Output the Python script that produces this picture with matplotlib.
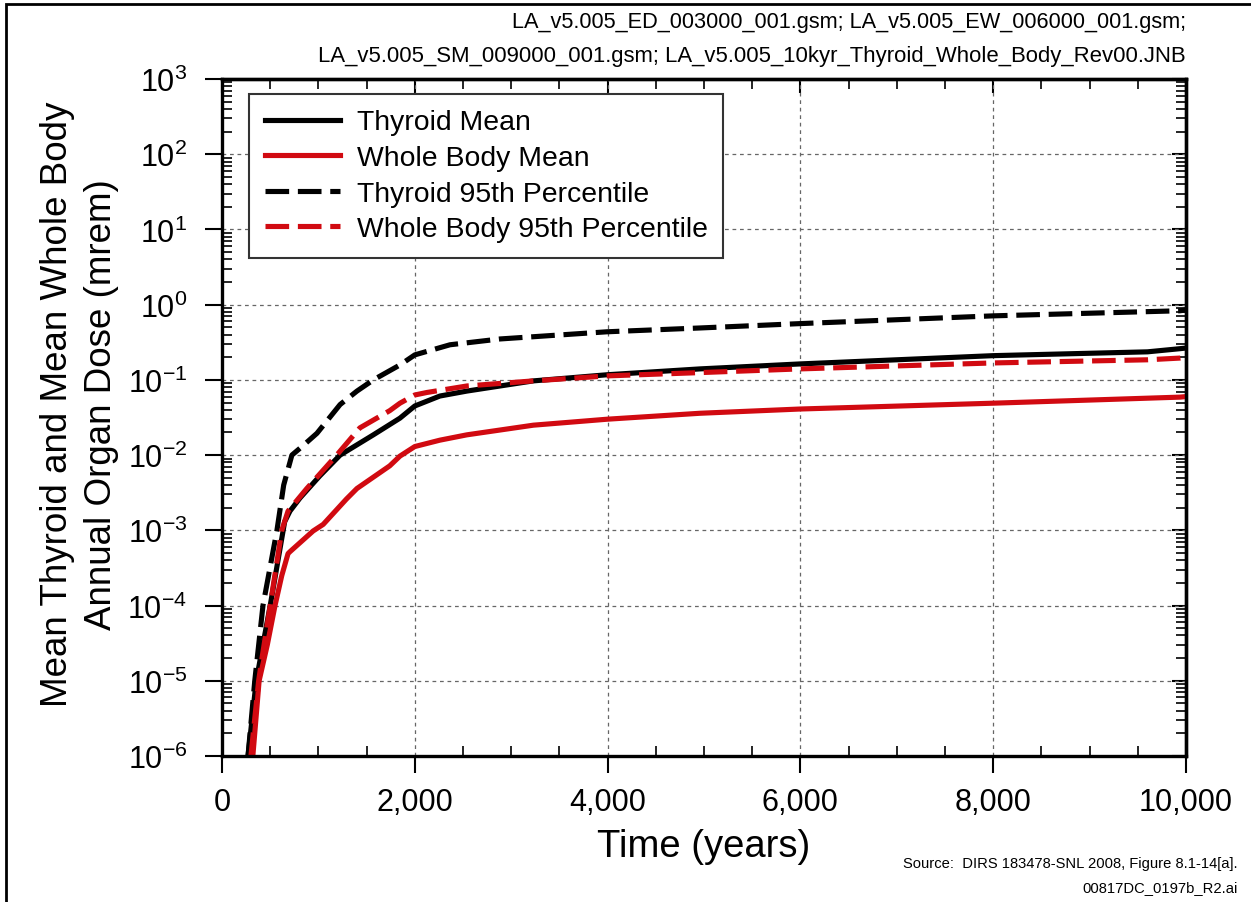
import numpy as np
import matplotlib.pyplot as plt
from matplotlib.ticker import FixedLocator, LogLocator, LogFormatterMathtext, FuncFormatter, NullFormatter
from matplotlib.patches import Rectangle

plt.rcParams['font.family'] = ['Liberation Sans', 'DejaVu Sans']
plt.rcParams['mathtext.default'] = 'regular'

# Values (years, mrem)
thy_mean_t = [270, 355, 500, 650, 705, 810, 1015, 1225, 1570, 1846, 2000, 2260, 2540,
              3230, 3994, 4958, 5996, 8000, 9600, 9938, 10000]
thy_mean_v = [1e-6, 1e-5, 1e-4, 1.3e-3, 1.8e-3, 2.7e-3, 5.3e-3, 1.0e-2, 1.86e-2, 3.1e-2,
              4.5e-2, 6.1e-2, 7.1e-2, 9.7e-2, 0.117, 0.14, 0.163, 0.21, 0.236, 0.26, 0.265]

wb_mean_t = [320, 385, 470, 550, 620, 685, 705, 945, 1050, 1290, 1400, 1740, 1846, 2000,
             2260, 2540, 3230, 3994, 4958, 5996, 8000, 9938, 10000]
wb_mean_v = [1e-6, 1e-5, 3e-5, 1e-4, 2.5e-4, 4.9e-4, 5.2e-4, 9.8e-4, 1.2e-3, 2.6e-3, 3.6e-3,
             7.2e-3, 9.7e-3, 1.3e-2, 1.58e-2, 1.86e-2, 2.5e-2, 3.0e-2, 3.6e-2, 4.1e-2,
             4.9e-2, 5.9e-2, 6.0e-2]

thy_95_t = [270, 340, 425, 570, 640, 725, 830, 985, 1225, 1400, 1570, 1846, 2000, 2365,
            2884, 3994, 4958, 5996, 8000, 9938, 10000]
thy_95_v = [1e-6, 1e-5, 1e-4, 1e-3, 4e-3, 1e-2, 1.3e-2, 1.95e-2, 4.7e-2, 7.1e-2, 0.1,
            0.158, 0.215, 0.293, 0.35, 0.436, 0.49, 0.56, 0.71, 0.83, 0.85]

wb_95_t = [300, 380, 415, 500, 620, 685, 880, 1190, 1430, 1740, 1846, 2000, 2125, 2540,
           3230, 3994, 4958, 5996, 8000, 9600, 9938, 10000]
wb_95_v = [1e-6, 1e-5, 2e-5, 1e-4, 1e-3, 1.8e-3, 3.6e-3, 1.0e-2, 2.3e-2, 3.9e-2, 4.9e-2,
           6.3e-2, 6.8e-2, 8.3e-2, 9.7e-2, 0.113, 0.125, 0.14, 0.168, 0.185, 0.195, 0.2]

header_1 = "LA_v5.005_ED_003000_001.gsm; LA_v5.005_EW_006000_001.gsm;"
header_2 = "LA_v5.005_SM_009000_001.gsm; LA_v5.005_10kyr_Thyroid_Whole_Body_Rev00.JNB"

red = '#d10a11'
lw = 3.7
dash = (0, (4.6, 1.7))

fig = plt.figure(figsize=(12.51, 9.03), dpi=100)
ax = fig.add_axes([222 / 1251, 1 - 757 / 903, (1186 - 222) / 1251, (757 - 80) / 903])

ax.plot(thy_mean_t, thy_mean_v, color='black', lw=lw, label='Thyroid Mean')
ax.plot(wb_mean_t, wb_mean_v, color=red, lw=lw, label='Whole Body Mean')
ax.plot(thy_95_t, thy_95_v, color='black', lw=lw, ls=dash, label='Thyroid 95th Percentile')
ax.plot(wb_95_t, wb_95_v, color=red, lw=lw, ls=dash, label='Whole Body 95th Percentile')

ax.set_yscale('log')
ax.set_xlim(0, 10000)
ax.set_ylim(1e-6, 1e3)

x_major = np.arange(0, 10001, 2000)
x_minor = np.arange(0, 10001, 500)
ax.xaxis.set_major_locator(FixedLocator(x_major))
ax.xaxis.set_minor_locator(FixedLocator(x_minor))
ax.xaxis.set_major_formatter(FuncFormatter(lambda v, p: f'{int(v):,}'))
ax.yaxis.set_major_locator(LogLocator(base=10, numticks=20))
ax.yaxis.set_minor_locator(LogLocator(base=10, subs=np.arange(2, 10), numticks=20))
ax.yaxis.set_major_formatter(LogFormatterMathtext())

ax.tick_params(axis='both', which='major', direction='out', length=12, width=1.5,
               labelsize=22)
ax.tick_params(axis='y', which='major', pad=13)
ax.tick_params(axis='x', which='major', pad=10)
ax.tick_params(axis='both', which='minor', direction='in', length=7, width=1.2,
               top=True, right=True)

# inward major ticks on the top and right edges
top = ax.secondary_xaxis('top')
top.xaxis.set_major_locator(FixedLocator(x_major))
top.xaxis.set_minor_locator(FixedLocator([]))
top.xaxis.set_major_formatter(NullFormatter())
top.tick_params(which='major', direction='in', length=10, width=1.5)
right = ax.secondary_yaxis('right')
right.yaxis.set_major_locator(LogLocator(base=10, numticks=20))
right.yaxis.set_minor_locator(FixedLocator([]))
right.yaxis.set_major_formatter(NullFormatter())
right.tick_params(which='major', direction='in', length=10, width=1.5)
for sec in (top, right):
    for s in sec.spines.values():
        s.set_linewidth(2.4)

ax.grid(True, which='major', ls=(0, (3, 3)), color='#666666', lw=0.9)
for s in ax.spines.values():
    s.set_linewidth(2.4)

ax.set_xlabel('Time (years)', fontsize=27.5, labelpad=8)
ax.set_ylabel('Mean Thyroid and Mean Whole Body\nAnnual Organ Dose (mrem)',
              fontsize=26.5, labelpad=6, linespacing=1.33)
ax.yaxis.label.set_y(0.521)

leg = ax.legend(loc='upper left', bbox_to_anchor=(0.028, 0.978), fontsize=20.4,
                handlelength=2.65, handletextpad=0.6, borderpad=0.55, labelspacing=0.34,
                borderaxespad=0, fancybox=False, framealpha=1, edgecolor='#333333')
leg.get_frame().set_linewidth(1.5)

fig.text(1186 / 1251, 1 - 28 / 903, header_1, ha='right', va='baseline', fontsize=15.7)
fig.text(1186 / 1251, 1 - 62 / 903, header_2, ha='right', va='baseline', fontsize=15.9)
fig.text(1238 / 1251, 1 - 864 / 903, 'Source:  DIRS 183478-SNL 2008, Figure 8.1-14[a].',
         ha='right', va='center', fontsize=10.6)
fig.text(1238 / 1251, 1 - 888 / 903, '00817DC_0197b_R2.ai', ha='right', va='center',
         fontsize=10.6)

fig.patches.append(Rectangle((6 / 1251, -0.01), 1.0, 1 - 5 / 903 + 0.01,
                             transform=fig.transFigure, fill=False, lw=2,
                             edgecolor='black'))

fig.savefig('out.png', dpi=100)
